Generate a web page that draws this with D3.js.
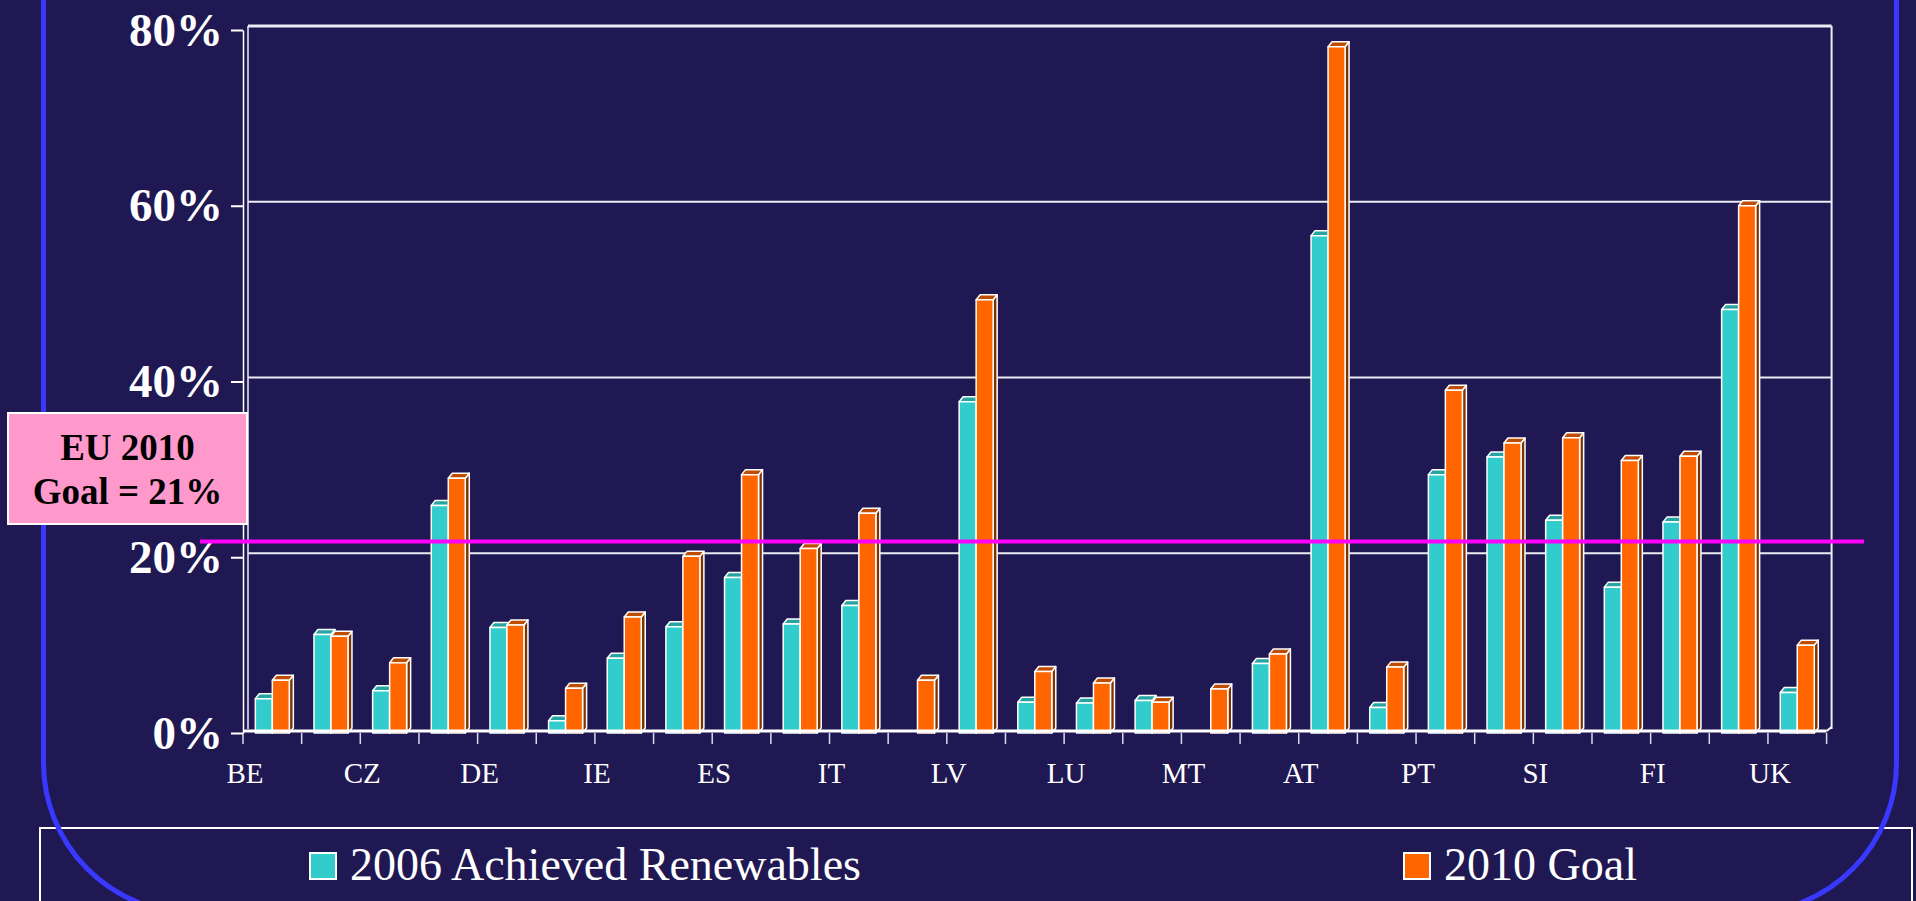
<!DOCTYPE html>
<html>
<head>
<meta charset="utf-8">
<style>
  body { margin: 0; background: #201852; overflow: hidden; }
  text { font-family: "Liberation Serif", "Times New Roman", serif; }
</style>
<script src="https://d3js.org/d3.v7.min.js"></script>
</head>
<body>
<script>
// data
var countries = ["BE","BG","CZ","DK","DE","EE","IE","EL","ES","FR","IT","CY","LV","LT",
                 "LU","HU","MT","NL","AT","PL","PT","RO","SI","SK","FI","SE","UK"];
var shownLabels = ["BE","CZ","DE","IE","ES","IT","LV","LU","MT","AT","PT","SI","FI","UK"];
var achieved2006 = [3.9,11.2,4.8,25.9,12.0,1.4,8.5,12.1,17.7,12.4,14.5,0,37.7,3.5,
                    3.4,3.7,0,7.9,56.6,2.9,29.4,31.4,24.2,16.6,24.0,48.2,4.6];
var goal2010 = [6.0,11.0,8.0,29.0,12.3,5.1,13.2,20.1,29.4,21.0,25.0,6.0,49.3,7.0,
                5.7,3.5,5.0,9.0,78.1,7.5,39.0,33.0,33.6,31.0,31.5,60.0,10.0];
var yTicks = [0,20,40,60,80];
var euGoal = 21;
var seriesNames = ["2006 Achieved Renewables","2010 Goal"];

var width = 1916, height = 901;
var left = 243, right = 1826.6;
var wallDx = 5, wallDy = 4;   // back wall offset (3d look)
var barDx = 4, barDy = 5;     // bar depth

var colors = {
  front: ["#33CCCC", "#FF6600"],
  top:   ["#26A3A3", "#BF4D00"],
  side:  ["#1A7A7A", "#803300"]
};

var svg = d3.select("body").append("svg")
    .attr("width", width)
    .attr("height", height);

svg.append("rect").attr("width", width).attr("height", height).attr("fill", "#201852");

var x = d3.scaleBand().domain(countries).range([left, right]);
var y = d3.scaleLinear().domain([0, 80]).range([733, 30]);
var bw = x.bandwidth();
var groupW = 34;
var xs = d3.scaleBand().domain([0, 1]).range([(bw - groupW) / 2, (bw + groupW) / 2]);

// back wall grid
svg.append("g").selectAll("line")
  .data(yTicks.filter(function(d) { return d > 0; }))
  .enter().append("line")
    .attr("x1", left + wallDx).attr("x2", right + wallDx)
    .attr("y1", function(d) { return y(d) - wallDy; })
    .attr("y2", function(d) { return y(d) - wallDy; })
    .attr("stroke", "#ECECF4")
    .attr("stroke-width", function(d) { return d == 80 ? 3 : 2; });

svg.append("line")
    .attr("x1", right + wallDx).attr("x2", right + wallDx)
    .attr("y1", y(80) - wallDy).attr("y2", y(0) - wallDy)
    .attr("stroke", "#ECECF4").attr("stroke-width", 2);
svg.append("line")
    .attr("x1", left + wallDx).attr("x2", left + wallDx)
    .attr("y1", y(80) - wallDy).attr("y2", y(0) - wallDy)
    .attr("stroke", "#ECECF4").attr("stroke-width", 1.5);

// bars
var bars = [];
countries.forEach(function(c, i) {
  [achieved2006[i], goal2010[i]].forEach(function(v, s) {
    if (v > 0) bars.push({c: c, s: s, v: v});
  });
});

var barG = svg.append("g").selectAll("g")
  .data(bars)
  .enter().append("g")
    .attr("stroke", "white")
    .attr("stroke-width", 1.5)
    .attr("stroke-linejoin", "round");

function bx(d) { return x(d.c) + xs(d.s); }
var bwid = xs.bandwidth();

barG.append("path")
    .attr("fill", function(d) { return colors.side[d.s]; })
    .attr("d", function(d) {
      var x0 = bx(d) + bwid, yt = y(d.v), yb = y(0);
      return "M" + x0 + "," + yt + "L" + (x0 + barDx) + "," + (yt - barDy) +
             "L" + (x0 + barDx) + "," + (yb - barDy) + "L" + x0 + "," + yb + "Z";
    });
barG.append("path")
    .attr("fill", function(d) { return colors.top[d.s]; })
    .attr("d", function(d) {
      var x0 = bx(d), yt = y(d.v);
      return "M" + x0 + "," + yt + "L" + (x0 + barDx) + "," + (yt - barDy) +
             "L" + (x0 + bwid + barDx) + "," + (yt - barDy) + "L" + (x0 + bwid) + "," + yt + "Z";
    });
barG.append("rect")
    .attr("fill", function(d) { return colors.front[d.s]; })
    .attr("x", bx)
    .attr("y", function(d) { return y(d.v); })
    .attr("width", bwid)
    .attr("height", function(d) { return y(0) - y(d.v); });

// floor front edge
svg.append("line")
    .attr("x1", left).attr("x2", right)
    .attr("y1", y(0) - 2).attr("y2", y(0) - 2)
    .attr("stroke", "white").attr("stroke-width", 3);
svg.append("line")
    .attr("x1", right).attr("x2", right + wallDx)
    .attr("y1", y(0) - 2).attr("y2", y(0) - 2 - wallDy)
    .attr("stroke", "white").attr("stroke-width", 2);

// category boundary ticks
svg.append("g").selectAll("line")
  .data(d3.range(countries.length + 1))
  .enter().append("line")
    .attr("x1", function(i) { return left + i * bw; })
    .attr("x2", function(i) { return left + i * bw; })
    .attr("y1", y(0)).attr("y2", y(0) + 11)
    .attr("stroke", "#DADAEA").attr("stroke-width", 1.5);

// y axis
var yAxis = svg.append("g")
    .attr("transform", "translate(" + left + ",0)")
    .call(d3.axisLeft(y).tickValues(yTicks).tickSize(12).tickSizeOuter(0).tickPadding(8)
      .tickFormat(function(d) { return d + "%"; }));
yAxis.selectAll("line").attr("stroke", "white").attr("stroke-width", 2);
yAxis.select(".domain").attr("stroke", "white").attr("stroke-width", 1.5);
yAxis.selectAll("text")
    .attr("fill", "white")
    .style("font-family", "'Liberation Serif', 'Times New Roman', serif")
    .style("font-size", "47px")
    .style("font-weight", "bold");

// x axis labels (sit at the left edge of their category)
var xAxis = svg.append("g")
    .attr("transform", "translate(" + (-bw / 2 + 2) + "," + y(0) + ")")
    .call(d3.axisBottom(x).tickValues(shownLabels).tickSize(0).tickPadding(29));
xAxis.select(".domain").remove();
xAxis.selectAll("text")
    .attr("fill", "white")
    .style("font-family", "'Liberation Serif', 'Times New Roman', serif")
    .style("font-size", "29px");

// EU goal line
svg.append("line")
    .attr("x1", 200).attr("x2", 1864)
    .attr("y1", y(euGoal) - 7).attr("y2", y(euGoal) - 7)
    .attr("stroke", "#FF00FF").attr("stroke-width", 4);

// legend box
svg.append("rect")
    .attr("x", 40).attr("y", 828).attr("width", 1872).attr("height", 120)
    .attr("fill", "none").attr("stroke", "white").attr("stroke-width", 2);

// slide frame
var fx0 = 43.5, fx1 = 1896.5, fy1 = 913, r = 150;
svg.append("path")
    .attr("d", "M" + fx0 + ",-50V" + (fy1 - r) +
               "A" + r + "," + r + " 0 0 0 " + (fx0 + r) + "," + fy1 +
               "H" + (fx1 - r) +
               "A" + r + "," + r + " 0 0 0 " + fx1 + "," + (fy1 - r) + "V-50")
    .attr("fill", "none").attr("stroke", "#3838FF").attr("stroke-width", 5);

// goal callout
svg.append("rect")
    .attr("x", 8).attr("y", 413).attr("width", 239).attr("height", 111)
    .attr("fill", "#FF99CC").attr("stroke", "white").attr("stroke-width", 2);
svg.append("text")
    .attr("x", 127.5).attr("text-anchor", "middle")
    .style("font-size", "37px").style("font-weight", "bold").attr("fill", "black")
    .selectAll("tspan")
    .data(["EU 2010", "Goal = " + euGoal + "%"])
    .enter().append("tspan")
      .attr("x", 127.5)
      .attr("y", function(d, i) { return 460 + i * 44; })
      .text(function(d) { return d; });

// legend items
var legendX = [310, 1404];
var leg = svg.append("g").selectAll("g")
  .data(seriesNames)
  .enter().append("g")
    .attr("transform", function(d, i) { return "translate(" + legendX[i] + ",853)"; });
leg.append("rect")
    .attr("width", 26).attr("height", 26)
    .attr("fill", function(d, i) { return colors.front[i]; })
    .attr("stroke", "white").attr("stroke-width", 2);
leg.append("text")
    .attr("x", 40).attr("y", 27)
    .attr("fill", "white")
    .style("font-size", "46px")
    .text(function(d) { return d; });
</script>
</body>
</html>
